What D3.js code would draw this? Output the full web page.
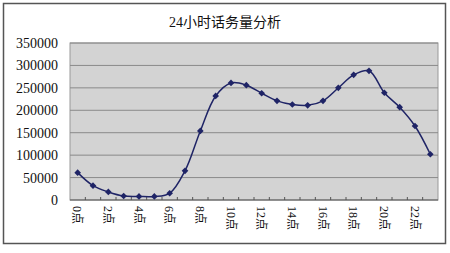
<!DOCTYPE html>
<html>
<head>
<meta charset="utf-8">
<script src="https://cdn.jsdelivr.net/npm/d3@7"></script>
<style>
  body { margin: 0; background: #fff; }
  svg { display: block; }
</style>
</head>
<body>
<svg id="chart" width="450" height="253"></svg>
<script>
// 24 hours of traffic
var hours = d3.range(24).map(function(h) { return h + "点"; });
var traffic = [61000, 32000, 18000, 9000, 8000, 8000, 15000, 65000, 154000, 232000,
               261000, 256000, 238000, 221000, 213000, 211000, 221000, 250000,
               279000, 288000, 239000, 207000, 165000, 102000];
var yTicks = [0, 50000, 100000, 150000, 200000, 250000, 300000, 350000];
var title = "24小时话务量分析";

var dd = {
    width: 450,
    height: 253,
    margin: { top: 43, bottom: 53, right: 12, left: 70 }
};

var svg = d3.select("#chart");
var serif = "'Liberation Serif', 'Noto Sans CJK SC', serif";

// outer frame
svg.append("rect")
    .attr("x", 3.5).attr("y", 3.5)
    .attr("width", 442).attr("height", 240)
    .attr("fill", "#fff")
    .attr("stroke", "#555").attr("stroke-width", 1.5);

svg.append("text")
    .attr("x", 225).attr("y", 27)
    .attr("text-anchor", "middle")
    .style("font-family", serif)
    .style("font-size", "14px")
    .attr("fill", "#111")
    .text(title);

var x = d3.scaleBand().domain(hours).range([dd.margin.left, dd.width - dd.margin.right]);
var y = d3.scaleLinear().domain([0, 350000]).range([dd.height - dd.margin.bottom, dd.margin.top]);

// plot area
svg.append("rect")
    .attr("x", dd.margin.left).attr("y", dd.margin.top)
    .attr("width", dd.width - dd.margin.right - dd.margin.left)
    .attr("height", y(0) - dd.margin.top)
    .attr("fill", "#d3d3d3")
    .attr("stroke", "#999").attr("stroke-width", 1);

svg.append("g")
    .selectAll("line")
    .data(yTicks.slice(1))
    .enter().append("line")
    .attr("x1", dd.margin.left).attr("x2", dd.width - dd.margin.right)
    .attr("y1", function(d) { return y(d); })
    .attr("y2", function(d) { return y(d); })
    .attr("stroke", "#8a8a8a").attr("stroke-width", 1);

// y axis labels
var yAxis = svg.append("g")
    .attr("transform", "translate(" + dd.margin.left + ",0)")
    .call(d3.axisLeft(y).tickValues(yTicks).tickSize(0).tickPadding(12).tickFormat(d3.format("d")));
yAxis.select(".domain").remove();
yAxis.selectAll("text")
    .style("font-family", serif)
    .style("font-size", "14px")
    .attr("fill", "#111");

// x axis: ticks at category boundaries pointing up
var xg = svg.append("g").attr("transform", "translate(0," + y(0) + ")");
xg.append("line")
    .attr("x1", dd.margin.left).attr("x2", dd.width - dd.margin.right)
    .attr("stroke", "#555");
xg.selectAll(".tk")
    .data(hours.slice(1))
    .enter().append("line")
    .attr("class", "tk")
    .attr("x1", function(d) { return x(d); })
    .attr("x2", function(d) { return x(d); })
    .attr("y1", 0).attr("y2", -3)
    .attr("stroke", "#555");
xg.selectAll(".lbl")
    .data(hours.filter(function(d, i) { return i % 2 === 0; }))
    .enter().append("text")
    .attr("class", "lbl")
    .attr("transform", function(d) {
        return "translate(" + (x(d) + x.bandwidth() / 2) + ",6) rotate(90)";
    })
    .attr("dy", "0.35em")
    .style("font-family", serif)
    .style("font-size", "12px")
    .attr("fill", "#111")
    .text(function(d) { return d; });

// line
var line = d3.line()
    .x(function(d, i) { return x(hours[i]) + x.bandwidth() / 2; })
    .y(function(d) { return y(d); })
    .curve(d3.curveCatmullRom.alpha(0.5));

svg.append("path")
    .datum(traffic)
    .attr("d", line)
    .attr("fill", "none")
    .attr("stroke", "#1f2466")
    .attr("stroke-width", 1.5);

svg.selectAll(".pt")
    .data(traffic)
    .enter().append("path")
    .attr("class", "pt")
    .attr("d", d3.symbol(d3.symbolDiamond2, 28))
    .attr("transform", function(d, i) {
        return "translate(" + (x(hours[i]) + x.bandwidth() / 2) + "," + y(d) + ")";
    })
    .attr("fill", "#1f2466");
</script>
</body>
</html>
